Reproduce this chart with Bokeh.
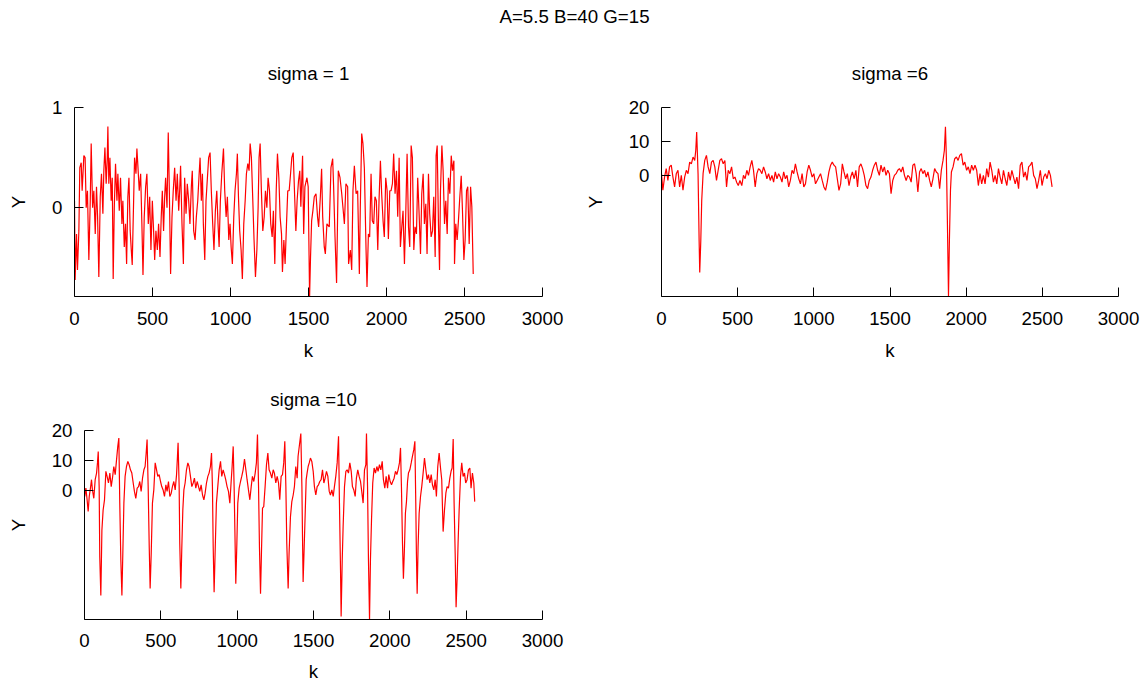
from bokeh.plotting import figure
from bokeh.layouts import column, row
from bokeh.models import Range1d, FixedTicker, Label
from bokeh.embed import file_html
from bokeh.resources import INLINE

MAIN_TITLE = "A=5.5 B=40 G=15"
TITLES = ["sigma = 1", "sigma =6", "sigma =10"]
X_TICKS = [0, 500, 1000, 1500, 2000, 2500, 3000]
Y_TICKS_1 = [0, 1]
Y_TICKS_2 = [0, 10, 20]
Y_TICKS_3 = [0, 10, 20]
X_RANGE = (0, 3000)
Y_RANGE_1 = (-0.884, 1)
Y_RANGE_2 = (-35.7, 20)
Y_RANGE_3 = (-43.0, 20)

# sigma = 1 : (k, Y)
SERIES_1 = [
    (0, 0.07), (4, -0.72), (13, -0.26), (19, -0.62), (28, -0.23), (34, 0.40), (43, 0.45), (49, 0.17),
    (60, 0.52), (68, 0.50), (75, 0.0), (83, 0.17), (92, -0.52), (101, 0.07), (107, 0.64), (116, 0.0),
    (124, 0.17), (133, -0.26), (141, 0.21), (148, -0.09), (156, -0.69), (165, 0.11), (173, 0.34),
    (182, -0.06), (188, 0.37), (195, 0.60), (203, 0.24), (210, 0.50), (214, 0.81), (220, 0.24),
    (227, 0.50), (235, 0.07), (242, 0.30), (248, -0.71), (255, 0.0), (263, 0.44), (272, 0.07),
    (278, 0.34), (287, -0.03), (295, 0.30), (304, -0.16), (310, 0.07), (319, -0.39), (327, -0.16),
    (334, -0.56), (342, 0.11), (349, 0.30), (357, -0.23), (364, -0.42), (370, -0.57), (379, 0.07),
    (385, 0.50), (394, 0.34), (400, 0.59), (407, 0.40), (415, 0.17), (424, 0.34), (432, -0.16),
    (439, -0.67), (447, -0.09), (456, 0.21), (464, 0.34), (473, -0.16), (482, 0.11), (490, -0.42),
    (499, 0.07), (507, -0.23), (514, -0.52), (522, -0.23), (531, -0.42), (539, -0.16), (548, -0.49),
    (556, -0.09), (563, 0.17), (571, -0.23), (578, 0.11), (584, 0.30), (593, 0.0), (601, 0.75),
    (608, 0.17), (616, -0.66), (625, -0.09), (633, 0.17), (642, 0.40), (651, 0.07), (659, 0.34),
    (668, -0.03), (674, 0.17), (680, 0.42), (689, -0.16), (698, -0.56), (706, 0.30), (715, -0.06),
    (723, 0.24), (732, 0.07), (740, -0.16), (749, 0.21), (755, 0.37), (764, -0.23), (773, -0.32),
    (781, -0.09), (790, 0.07), (799, 0.34), (805, 0.50), (813, 0.07), (820, 0.34), (826, -0.16),
    (835, -0.52), (843, 0.07), (852, 0.30), (860, 0.50), (869, 0.55), (877, 0.17), (886, -0.16),
    (894, -0.42), (903, -0.03), (912, 0.17), (920, -0.16), (927, -0.39), (935, 0.07), (944, 0.34),
    (955, 0.59), (963, 0.17), (972, -0.09), (980, 0.11), (989, -0.32), (997, -0.16), (1004, -0.39),
    (1012, -0.56), (1021, -0.09), (1029, 0.17), (1038, 0.34), (1044, 0.54), (1051, 0.11),
    (1059, -0.23), (1068, -0.42), (1076, -0.71), (1085, -0.16), (1094, 0.07), (1102, 0.34),
    (1111, 0.44), (1119, 0.37), (1126, 0.64), (1134, 0.50), (1143, 0.07), (1151, -0.32),
    (1160, -0.69), (1169, -0.42), (1177, 0.0), (1183, 0.50), (1190, 0.64), (1198, 0.17),
    (1207, -0.23), (1216, -0.09), (1224, 0.17), (1233, 0.0), (1241, 0.30), (1250, 0.17),
    (1258, -0.16), (1267, -0.29), (1275, -0.03), (1284, -0.56), (1293, 0.17), (1301, 0.54),
    (1310, 0.30), (1318, -0.09), (1327, -0.26), (1333, -0.64), (1342, -0.32), (1350, -0.56),
    (1359, -0.16), (1367, 0.17), (1376, 0.17), (1385, 0.34), (1393, 0.50), (1402, 0.55),
    (1410, 0.17), (1419, -0.23), (1427, 0.07), (1436, 0.27), (1444, 0.37),
    (1451, 0.01), (1462, 0.52), (1469, -0.26), (1477, 0.21), (1490, 0.30), (1498, 0.21),
    (1507, -0.884), (1513, -0.49), (1520, -0.13), (1528, -0.03), (1537, 0.11), (1548, 0.14),
    (1558, -0.09), (1565, -0.19), (1576, 0.11), (1584, 0.39), (1591, -0.09), (1601, -0.39),
    (1608, -0.46), (1618, -0.16), (1633, -0.19), (1644, 0.40), (1655, 0.49), (1661, 0.21),
    (1670, -0.29), (1680, -0.75), (1691, 0.37), (1702, 0.30), (1713, 0.14), (1721, 0.0),
    (1730, -0.16), (1740, 0.24), (1751, 0.21), (1757, -0.56), (1768, -0.42), (1777, -0.62),
    (1785, 0.17), (1794, 0.42), (1805, 0.14), (1815, 0.17), (1826, -0.66), (1832, 0.0),
    (1841, 0.74), (1849, 0.64), (1858, 0.40), (1869, -0.42), (1875, -0.79), (1884, -0.26),
    (1892, -0.29), (1901, 0.34), (1909, -0.13), (1918, -0.16), (1926, 0.11), (1935, 0.07),
    (1944, -0.42), (1952, 0.07), (1961, 0.47), (1969, 0.14), (1978, -0.13), (1986, -0.29),
    (1995, 0.30), (2004, 0.17), (2012, -0.31), (2021, 0.17), (2029, 0.17), (2038, 0.24),
    (2046, 0.54), (2055, 0.14), (2064, 0.37), (2072, -0.09), (2081, 0.50), (2089, -0.39),
    (2098, -0.19), (2106, -0.03), (2115, -0.56), (2123, -0.09), (2132, 0.54), (2141, -0.19),
    (2149, -0.39), (2158, 0.62), (2166, 0.50), (2175, -0.42), (2183, -0.19), (2192, -0.26),
    (2200, 0.30), (2209, -0.06), (2218, -0.46), (2226, 0.14), (2235, 0.34), (2243, -0.16),
    (2252, 0.04), (2260, -0.46), (2269, 0.34), (2277, -0.06), (2286, -0.29), (2295, -0.23),
    (2303, 0.11), (2312, -0.49), (2318, 0.52), (2325, 0.62), (2333, -0.16), (2340, -0.62),
    (2346, 0.17), (2355, 0.62), (2363, 0.37), (2372, -0.16), (2380, 0.07), (2389, -0.26),
    (2397, 0.30), (2406, 0.14), (2415, 0.52), (2423, 0.37), (2432, 0.47), (2436, -0.56),
    (2444, -0.16), (2453, -0.32), (2461, -0.13), (2470, 0.11), (2479, 0.32), (2487, -0.03),
    (2496, -0.52), (2504, -0.32), (2513, 0.17), (2521, 0.21), (2530, -0.36), (2539, 0.21),
    (2547, 0.01), (2556, -0.66),
]

# sigma = 6
SERIES_2 = [
    (0, 0.5), (9, -4.4), (20, -0.5), (31, 2.0), (42, -1.5), (53, 2.5), (64, 3.0), (75, -0.5),
    (86, -3.4), (97, 0.5), (108, 1.5), (119, -3.4), (130, 0.0), (141, -4.4), (152, -0.5), (163, 1.5),
    (174, 0.5), (185, 3.9), (196, 3.4), (207, 5.4), (218, 4.4), (225, 7.4), (231, 12.8), (240, 0.5),
    (247, -19.2), (251, -28.6), (258, -19.2), (264, -7.4), (273, 0.5), (284, 4.4), (295, 5.9),
    (306, 2.5), (317, 0.5), (328, 3.9), (339, 4.4), (350, 2.5), (361, -1.5), (372, 1.5), (383, 4.4),
    (394, 4.9), (405, 3.4), (416, 4.4), (427, -3.4), (438, 1.5), (449, 0.5), (460, 2.5), (471, -1.0),
    (482, -0.5), (493, -2.0), (504, -3.0), (515, -1.5), (527, -3.0), (538, 0.0), (549, -1.0),
    (560, 1.5), (571, 0.0), (582, 2.5), (593, 4.4), (604, 1.5), (615, -3.4), (626, 0.5), (637, 2.0),
    (648, 1.5), (659, 0.5), (670, 2.5), (681, 1.0), (692, -1.0), (703, 0.5), (714, -1.5), (725, 0.0),
    (736, -2.0), (747, 1.0), (758, -1.0), (769, 0.5), (780, -0.5), (791, -2.0), (802, 1.0),
    (813, -1.0), (824, 0.0), (835, -3.4), (846, -1.5), (857, 1.5), (868, 0.5), (879, 3.4), (890, 1.0),
    (901, -1.0), (912, -2.5), (923, 0.5), (934, -3.4), (945, -2.5), (956, 1.0), (967, 3.0), (978, 1.5),
    (989, -0.5), (1000, 0.5), (1011, -2.5), (1022, -1.5), (1033, -0.5), (1044, 0.5), (1055, -1.5),
    (1066, -3.4), (1077, -4.4), (1088, -2.0), (1099, 1.0), (1110, 3.0), (1121, 3.9), (1132, 3.0),
    (1143, 2.5), (1154, -1.0), (1165, -4.4), (1176, -2.5), (1187, 3.4), (1198, 1.0), (1209, -1.0),
    (1220, 0.5), (1231, -3.0), (1242, -0.5), (1253, 1.0), (1265, -1.0), (1276, 1.5), (1287, -3.4),
    (1298, 2.5), (1309, 3.4), (1320, 2.0), (1331, 0.0), (1342, -3.0), (1353, -3.9), (1364, -1.5),
    (1375, -0.5), (1386, 1.5), (1397, 3.0), (1408, 3.9), (1419, 1.5), (1430, 0.0), (1441, 3.0),
    (1452, 1.0), (1463, 2.5), (1474, 0.0), (1485, 1.5), (1496, 0.5), (1507, -5.4), (1518, -1.5),
    (1529, 0.0), (1540, 0.5), (1551, 1.5), (1562, 2.0), (1573, 1.0), (1584, 2.5), (1595, 0.0),
    (1606, -1.5), (1617, 0.0), (1628, -0.5), (1639, -2.0), (1650, 3.0), (1661, 3.4), (1672, 0.5),
    (1683, -4.9), (1694, 1.0), (1705, 2.0), (1716, 0.5), (1727, 1.5), (1738, -0.5), (1749, 1.0),
    (1760, -1.5), (1771, -3.4), (1782, -1.0), (1793, 2.0), (1804, 1.0), (1815, 0.5), (1826, -3.9),
    (1837, 1.5), (1848, 4.4), (1857, 7.4), (1864, 14.3), (1870, 5.4), (1877, -14.3), (1884, -35.7),
    (1890, -19.2), (1897, -4.4), (1903, 1.0), (1914, 2.5), (1925, 4.9), (1936, 5.4), (1947, 4.4),
    (1958, 5.9), (1969, 6.4), (1980, 3.0), (1991, 3.9), (2003, 1.5), (2014, 2.5), (2025, 0.5),
    (2036, 3.0), (2047, 1.5), (2058, 3.0), (2069, 1.5), (2080, -3.0), (2091, 0.5), (2102, -2.5),
    (2113, 0.0), (2124, -2.5), (2135, 2.0), (2146, -0.5), (2157, 3.9), (2168, 1.5), (2179, -2.0),
    (2190, 0.0), (2201, -2.5), (2212, 2.0), (2223, -0.5), (2234, -2.5), (2245, 1.5), (2256, -1.0),
    (2267, -3.0), (2278, 1.0), (2289, -1.5), (2300, 1.5), (2311, -0.5), (2322, -2.5), (2333, -0.5),
    (2344, -3.9), (2355, 3.0), (2366, 3.9), (2377, -0.5), (2388, 1.0), (2399, -1.5), (2410, 2.5),
    (2421, 3.0), (2432, 3.9), (2443, 0.0), (2454, -1.0), (2465, -3.9), (2476, -1.5), (2487, 1.5),
    (2498, -3.0), (2509, -0.5), (2520, 0.5), (2531, -1.0), (2542, 1.5), (2553, 0.0), (2564, -3.4),
]

# sigma = 10
SERIES_3 = [
    (2, -2.0), (9, 0.8), (17, -3.1), (24, -7.0), (31, -2.0), (39, 0.8), (46, 3.6), (52, 0.2),
    (61, -2.6), (70, 3.6), (79, 5.8), (85, 9.2), (90, 13.0), (96, 1.3), (100, -22.1), (107, -35.0),
    (114, -13.2), (122, -6.5), (131, -3.1), (140, 6.4), (148, 4.7), (157, 2.5), (166, 5.8),
    (175, 1.3), (183, 4.1), (192, 8.0), (201, 5.3), (210, 10.3), (218, 14.7), (225, 17.5),
    (231, -4.2), (238, -23.2), (245, -35.0), (251, -21.0), (258, -4.2), (266, 4.7), (275, 8.0),
    (284, 9.7), (293, 8.5), (301, 6.9), (310, 5.8), (319, 2.5), (327, -0.3), (336, -2.6), (345, 0.8),
    (354, 1.3), (362, 3.0), (371, -0.3), (380, 4.1), (389, 6.9), (397, 8.0), (404, 12.5), (410, 17.0),
    (417, 1.3), (424, -18.8), (430, -32.7), (437, -21.0), (445, -4.2), (454, 0.2), (463, 9.2),
    (472, 6.9), (480, 4.7), (489, 5.3), (498, 3.0), (506, 1.3), (515, 0.2), (524, -2.0), (533, 1.9),
    (541, -0.3), (550, 3.0), (559, -2.0), (568, -0.9), (576, 1.3), (585, 3.0), (594, 0.2), (603, 5.3),
    (609, 11.4), (613, 15.9), (620, 1.3), (624, -17.7), (631, -32.7), (637, -19.9), (644, -6.5),
    (651, 0.2), (659, 2.5), (668, 6.9), (677, 9.2), (685, 8.0), (694, 4.7), (703, 1.3), (712, 2.5),
    (720, 4.1), (729, 0.8), (738, 3.0), (747, 1.3), (755, -0.3), (764, 1.9), (773, -1.5), (782, -3.1),
    (790, -0.9), (799, 2.5), (808, 4.7), (816, 5.8), (825, 8.0), (832, 12.5), (838, 1.3),
    (843, -18.8), (849, -33.9), (856, -19.9), (864, -4.2), (873, 1.3), (882, 6.9), (891, 9.7),
    (899, 4.7), (908, 6.9), (917, 5.3), (925, 3.6), (934, 1.3), (943, -0.3), (952, -4.2), (960, 2.5),
    (967, 8.0), (974, 14.7), (980, 1.3), (985, -13.2), (991, -31.1), (998, -17.7), (1004, -4.2),
    (1013, 0.8), (1022, 3.0), (1030, 4.7), (1039, 6.9), (1048, 10.5), (1057, 6.9), (1065, 3.6),
    (1074, 0.2), (1083, -3.1), (1092, 1.3), (1100, 4.7), (1109, 3.0), (1118, 5.8), (1126, 9.2),
    (1133, 18.7), (1140, 1.3), (1146, -18.8), (1153, -34.4), (1159, -21.0), (1166, -5.9),
    (1174, -5.4), (1183, 1.3), (1192, 8.6), (1201, 12.5), (1209, 6.9), (1218, 5.8), (1227, 4.1),
    (1236, 6.9), (1244, 5.8), (1253, 2.5), (1262, 4.7), (1271, 2.5), (1279, -3.1), (1288, 4.7),
    (1297, 5.3), (1305, 9.2), (1312, 16.4), (1319, 1.3), (1325, -17.7), (1334, -32.7), (1340, -21.0),
    (1349, -8.8), (1358, -3.7), (1367, -1.5), (1375, 1.3), (1384, 8.0), (1393, 4.1), (1399, 11.4),
    (1417, 19.0), (1424, 1.3), (1428, -15.4), (1432, -30.5), (1439, -18.8), (1445, -8.7), (1452, 3.6),
    (1458, 5.8), (1465, 8.0), (1472, 9.2), (1480, 10.8), (1489, 9.7), (1498, 6.4), (1506, 1.3),
    (1515, -1.5), (1524, 1.3), (1533, 1.9), (1541, 3.0), (1550, 3.6), (1559, 6.9), (1568, 2.5),
    (1576, 4.1), (1585, 6.4), (1594, 4.7), (1603, -0.3), (1611, -1.5), (1620, 0.2), (1629, -2.0),
    (1637, 1.3), (1646, 4.7), (1655, 9.2), (1664, 18.1), (1670, -4.2), (1677, -26.5), (1681, -42.0),
    (1688, -23.5), (1694, -12.1), (1703, 1.3), (1712, 6.4), (1720, 6.9), (1729, 5.8), (1738, 9.2),
    (1747, 6.4), (1755, 1.3), (1764, 0.2), (1773, -2.0), (1781, 4.1), (1790, 6.9), (1799, 4.7),
    (1808, 3.0), (1816, -0.3), (1825, -4.2), (1834, 6.9), (1843, 8.6), (1847, 19.0), (1854, 1.3),
    (1860, -23.2), (1867, -43.0), (1873, -23.2), (1880, -9.8), (1888, 2.5), (1897, 7.5), (1906, 5.8),
    (1915, 8.0), (1923, 6.4), (1932, 8.6), (1941, 6.9), (1950, 9.7), (1958, 3.6), (1967, 0.8),
    (1976, 4.7), (1985, 0.8), (1993, 5.3), (2002, 3.0), (2011, 1.9), (2019, 3.0), (2028, 4.1),
    (2037, 6.4), (2046, 5.3), (2054, 6.9), (2063, 9.2), (2070, 14.2), (2076, 1.3), (2083, -17.7),
    (2089, -29.4), (2096, -18.8), (2102, -7.6), (2109, -3.7), (2116, 3.0), (2122, 5.8), (2131, 6.9),
    (2140, 9.2), (2148, 11.4), (2157, 13.6), (2164, 16.4), (2170, -4.2), (2174, -21.0), (2179, -34.4),
    (2185, -18.8), (2192, -7.6), (2201, -2.0), (2209, 1.3), (2218, 5.8), (2227, 10.8), (2236, 6.9),
    (2244, 3.6), (2253, 5.3), (2262, 2.5), (2271, 5.3), (2279, 1.9), (2288, 0.2), (2297, 3.6),
    (2305, -2.0), (2314, 8.0), (2323, 12.5), (2332, 7.5), (2340, 3.6), (2349, -13.7), (2358, -6.5),
    (2367, -0.9), (2375, 1.3), (2384, 0.8), (2393, 4.1), (2401, 6.4), (2408, 7.5), (2415, 17.2),
    (2421, -4.2), (2428, -21.0), (2434, -38.9), (2441, -28.8), (2447, -17.7), (2454, -6.5),
    (2463, 4.7), (2471, 9.2), (2480, 4.7), (2489, 5.8), (2497, 2.5), (2506, 3.6), (2515, 6.9),
    (2524, 7.5), (2532, 0.8), (2541, 5.8), (2550, 2.5), (2556, -3.7),
]

FONT = "Liberation Sans"
FS = "18.7px"
RED = "#ff0000"


def panel(width, height, bl, br, bt, bb, yr, yticks, title, series, title_standoff,
          x_label_standoff, x_axis_label_standoff):
    k = [p[0] for p in series]
    y = [p[1] for p in series]
    p = figure(width=width, height=height, output_backend="svg", toolbar_location=None,
               x_range=Range1d(*X_RANGE), y_range=Range1d(*yr),
               min_border_left=bl, min_border_right=br,
               min_border_top=bt, min_border_bottom=bb)
    p.outline_line_color = None
    p.background_fill_color = "white"
    p.border_fill_color = "white"
    p.grid.visible = False
    p.line(k, y, line_color=RED, line_width=1.2)
    p.xaxis.ticker = FixedTicker(ticks=X_TICKS)
    p.yaxis.ticker = FixedTicker(ticks=yticks)
    for ax in p.axis:
        ax.major_tick_in = 9
        ax.major_tick_out = 0
        ax.minor_tick_in = 0
        ax.minor_tick_out = 0
        ax.axis_line_color = "black"
        ax.major_tick_line_color = "black"
        ax.major_label_text_font = FONT
        ax.major_label_text_font_size = FS
        ax.major_label_text_color = "black"
        ax.axis_label_text_font = FONT
        ax.axis_label_text_font_size = FS
        ax.axis_label_text_font_style = "normal"
        ax.axis_label_text_color = "black"
    p.xaxis.axis_label = "k"
    p.yaxis.axis_label = "Y"
    p.xaxis.major_label_standoff = x_label_standoff
    p.xaxis.axis_label_standoff = x_axis_label_standoff
    p.yaxis.major_label_standoff = 12
    p.yaxis.axis_label_standoff = 20
    p.title.text = title
    p.title.align = "center"
    p.title.text_font = FONT
    p.title.text_font_size = FS
    p.title.text_font_style = "normal"
    p.title.text_color = "black"
    p.title.standoff = title_standoff
    return p


TOP_H = 36
top = figure(width=1148, height=TOP_H, output_backend="svg", toolbar_location=None,
             x_range=Range1d(0, 1), y_range=Range1d(0, 1), min_border=0,
             x_axis_location=None, y_axis_location=None)
top.outline_line_color = None
top.grid.visible = False
top.add_layout(Label(x=0.5, y=0.55, text=MAIN_TITLE, text_align="center",
                     text_baseline="middle", text_font=FONT, text_font_size=FS,
                     text_color="black"))

p1 = panel(570, 330, 74, 28, 71, 70, Y_RANGE_1, Y_TICKS_1, TITLES[0], SERIES_1, 47, 15, 12)
p2 = panel(578, 330, 91, 30, 71, 70, Y_RANGE_2, Y_TICKS_2, TITLES[1], SERIES_2, 47, 15, 12)
p3 = panel(570, 318, 84, 28, 64, 65, Y_RANGE_3, Y_TICKS_3, TITLES[2], SERIES_3, 41, 14, 11)

layout = column(top, row(p1, p2), row(p3))

open("out.html", "w").write(file_html(layout, INLINE))
